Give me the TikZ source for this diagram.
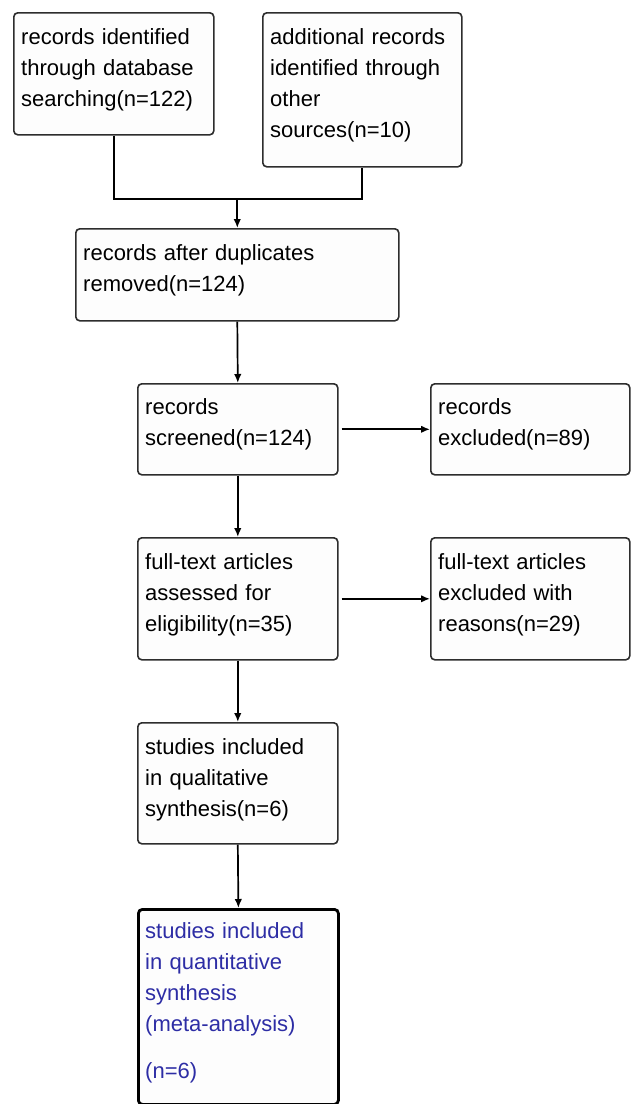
\documentclass[tikz,border=0pt]{standalone}
\usepackage{fontspec}
\setmainfont{Liberation Sans}
\usetikzlibrary{arrows.meta,calc}
\definecolor{boxline}{RGB}{45,45,45}
\definecolor{bluetext}{RGB}{45,45,165}
\definecolor{boxfill}{RGB}{253,253,253}
\begin{document}
\begin{tikzpicture}[x=1pt,y=-1pt,
  box/.style={draw=boxline, line width=1.6pt, fill=boxfill, rounded corners=4pt, inner sep=0pt, anchor=north west},
  finalbox/.style={box, draw=black, line width=2.8pt},
  lbl/.style={anchor=base west, inner sep=0pt, align=left, text width=#1, font=\fontsize{22}{31}\selectfont},
  conn/.style={draw=black, line width=1.7pt},
  arr/.style={conn, -{Latex[length=9pt,width=7.5pt]}}
]
\useasboundingbox (0,0) rectangle (631,1104);

% boxes
\node[box, minimum width=200pt, minimum height=122pt] (A) at (13,12) {};
\node[box, minimum width=199pt, minimum height=154pt] (B) at (262,12) {};
\node[box, minimum width=323pt, minimum height=92pt] (C) at (75,228) {};
\node[box, minimum width=200pt, minimum height=91pt] (D) at (137,383) {};
\node[box, minimum width=199pt, minimum height=91pt] (E) at (430,383) {};
\node[box, minimum width=200pt, minimum height=122pt] (F) at (137,537) {};
\node[box, minimum width=199pt, minimum height=122pt] (G) at (430,537) {};
\node[box, minimum width=200pt, minimum height=121pt] (H) at (137,722) {};
\node[finalbox, minimum width=200pt, minimum height=195pt] (I) at (137,908) {};

% texts
\node[lbl=190pt] (At) at ($(A.north west)+(8,32)$) {records identified\\through database\\searching(n=122)};
\node[lbl=190pt] (Bt) at ($(B.north west)+(8,32)$) {additional records\\identified through\\other\\sources(n=10)};
\node[lbl=310pt] (Ct) at ($(C.north west)+(8,32)$) {records after duplicates\\removed(n=124)};
\node[lbl=190pt] (Dt) at ($(D.north west)+(8,31)$) {records\\screened(n=124)};
\node[lbl=190pt] (Et) at ($(E.north west)+(8,31)$) {records\\excluded(n=89)};
\node[lbl=190pt] (Ft) at ($(F.north west)+(8,32)$) {full-text articles\\assessed for\\eligibility(n=35)};
\node[lbl=190pt] (Gt) at ($(G.north west)+(8,32)$) {full-text articles\\excluded with\\reasons(n=29)};
\node[lbl=190pt] (Ht) at ($(H.north west)+(8,32)$) {studies included\\in qualitative\\synthesis(n=6)};
\node[lbl=190pt, text=bluetext] (It) at ($(I.north west)+(8,30)$) {studies included\\in quantitative\\synthesis\\(meta-analysis)\\[16pt](n=6)};

% connectors
\path (C.north) ++(0,-29) coordinate (J);
\draw[conn] (A.south) |- (J) -| (B.south);
\draw[arr] (J) -- (C.north);
\draw[arr] (C.south) -- (D.north);
\draw[arr, shorten <=3pt] (D.east) -- (E.west);
\draw[arr] (D.south) -- (F.north);
\draw[arr, shorten <=3pt] (F.east) -- (G.west);
\draw[arr] (F.south) -- (H.north);
\draw[arr] (H.south) -- (I.north);
\end{tikzpicture}
\end{document}
